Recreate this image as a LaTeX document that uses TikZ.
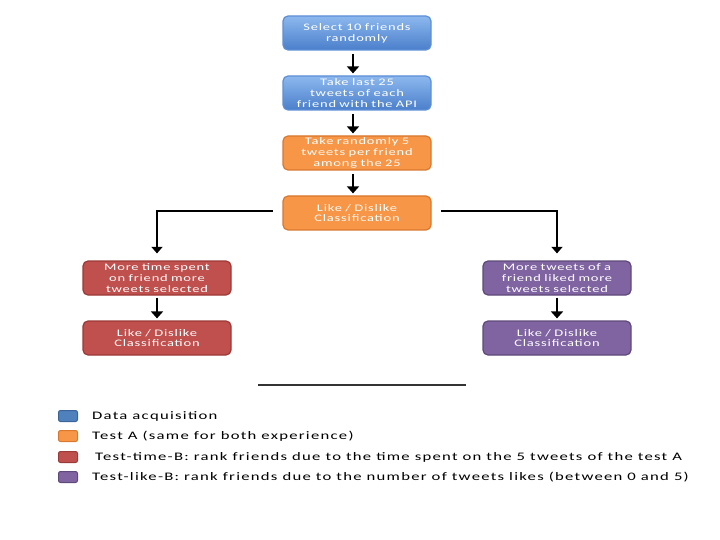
\documentclass[tikz,border=0pt]{standalone}
\usepackage{fontspec}
\setmainfont{Carlito}
\newfontfamily\boxfont{Carlito}[FakeStretch=1.45, LetterSpace=8]
\newfontfamily\legfont{Carlito}[FakeStretch=1.45, LetterSpace=11]
\usetikzlibrary{arrows.meta}
\definecolor{bluetop}{HTML}{8DB8EE}
\definecolor{bluebot}{HTML}{4A7FCB}
\definecolor{blueedge}{HTML}{5D8FD6}
\definecolor{orfill}{HTML}{F79646}
\definecolor{oredge}{HTML}{D9782F}
\definecolor{redfill}{HTML}{C0504D}
\definecolor{rededge}{HTML}{9C3A37}
\definecolor{purfill}{HTML}{8064A2}
\definecolor{puredge}{HTML}{5F497A}
\definecolor{legblue}{HTML}{4F81BD}
\definecolor{legbluee}{HTML}{3A6599}
\tikzset{
  box/.style={rounded corners=5pt, minimum width=148pt, minimum height=34pt,
    text width=146pt, align=center, text=white, font=\boxfont\fontsize{10}{10.7}\selectfont, inner sep=1pt, line width=1.2pt},
  bluebox/.style={box, draw=blueedge, top color=bluetop, bottom color=bluebot},
  orbox/.style={box, draw=oredge, fill=orfill},
  redbox/.style={box, draw=rededge, fill=redfill},
  purbox/.style={box, draw=puredge, fill=purfill},
  arr/.style={line width=2.2pt, -{Triangle[width=12pt,length=7pt]}},
  conn/.style={line width=1.4pt, -{Triangle[width=11pt,length=6.5pt]}},
  legsq/.style={rounded corners=2pt, minimum width=19pt, minimum height=11pt, inner sep=0pt, line width=1pt},
  legtxt/.style={anchor=west, font=\legfont\fontsize{11.5}{13}\selectfont, inner sep=0pt}
}
\begin{document}
\begin{tikzpicture}[x=1pt,y=-1pt]
\useasboundingbox (0,0) rectangle (720,540);
\node[bluebox] (b1) at (357,33) {Select 10 friends\\randomly};
\node[bluebox] (b2) at (357,93) {Take last 25\\tweets of each\\friend with the API};
\node[orbox] (b3) at (357,153) {Take randomly 5\\tweets per friend\\among the 25};
\node[orbox] (b4) at (357,213) {Like / Dislike\\Classification};
\node[redbox] (l1) at (157,278) {More time spent\\on friend more\\tweets selected};
\node[redbox] (l2) at (157,338) {Like / Dislike\\Classification};
\node[purbox] (r1) at (557,278) {More tweets of a\\friend liked more\\tweets selected};
\node[purbox] (r2) at (557,338) {Like / Dislike\\Classification};
\draw[arr, shorten <=3pt, shorten >=2pt] ([xshift=-4pt]b1.south) -- ([xshift=-4pt]b2.north);
\draw[arr, shorten <=3pt, shorten >=2pt] ([xshift=-4pt]b2.south) -- ([xshift=-4pt]b3.north);
\draw[arr, shorten <=3pt, shorten >=2pt] ([xshift=-4pt]b3.south) -- ([xshift=-4pt]b4.north);
\coordinate (lst) at (273,211);
\coordinate (rst) at (441,211);
\draw[conn, shorten >=7pt] (lst) -| (l1.north);
\draw[conn, shorten >=7pt] (rst) -| (r1.north);
\draw[arr, shorten <=2pt, shorten >=2pt] (l1.south) -- (l2.north);
\draw[arr, shorten <=2pt, shorten >=2pt] (r1.south) -- (r2.north);
\coordinate (hl) at (258,385);
\coordinate (hr) at (466,385);
\draw[line width=1.8pt, black!80] (hl) -- (hr);
\node[legsq, draw=legbluee, fill=legblue] (s1) at (68,416) {};
\node[legsq, draw=oredge, fill=orfill] (s2) at (68,436) {};
\node[legsq, draw=rededge, fill=redfill] (s3) at (68,457) {};
\node[legsq, draw=puredge, fill=purfill] (s4) at (68,477) {};
\node[legtxt] (t1) at (92,416) {Data acquisition};
\node[legtxt] (t2) at (92,436) {Test A (same for both experience)};
\node[legtxt] (t3) at (95,457) {Test-time-B: rank friends due to the time spent on the 5 tweets of the test A};
\node[legtxt] (t4) at (92,477) {Test-like-B: rank friends due to the number of tweets likes (between 0 and 5)};
\end{tikzpicture}
\end{document}
